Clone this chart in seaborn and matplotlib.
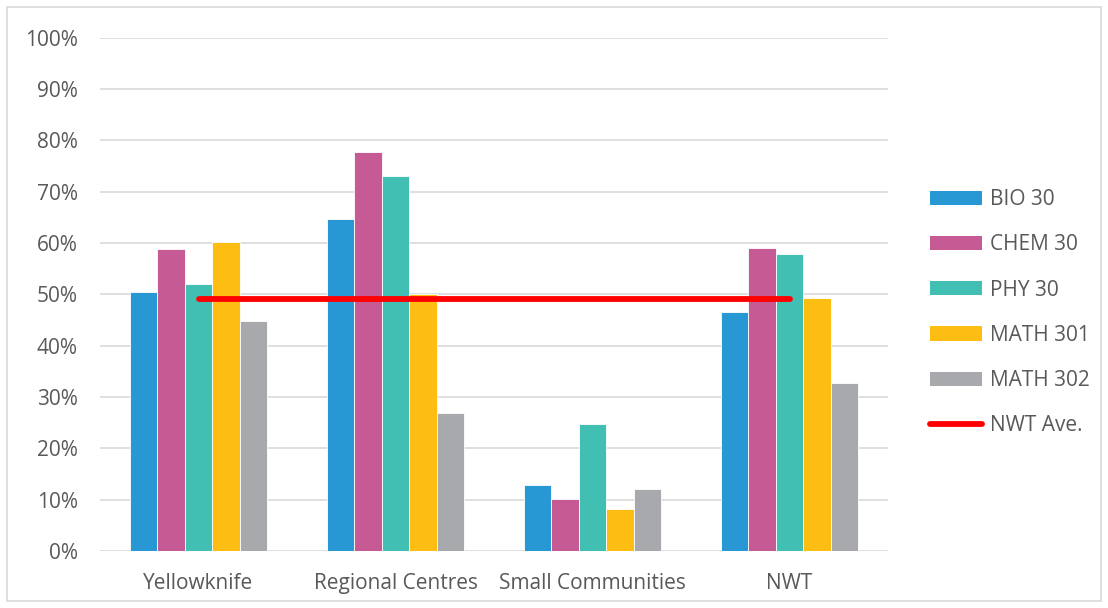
import matplotlib
matplotlib.use("Agg")
import matplotlib.pyplot as plt
from matplotlib.patches import Patch, Rectangle
from matplotlib.lines import Line2D
from matplotlib.ticker import PercentFormatter
import pandas as pd
import seaborn as sns

regions = ["Yellowknife", "Regional Centres", "Small Communities", "NWT"]
courses = ["BIO 30", "CHEM 30", "PHY 30", "MATH 301", "MATH 302"]
bio30 = [0.504, 0.646, 0.128, 0.465]
chem30 = [0.588, 0.777, 0.101, 0.590]
phy30 = [0.520, 0.730, 0.248, 0.578]
math301 = [0.601, 0.500, 0.082, 0.493]
math302 = [0.448, 0.268, 0.120, 0.328]
nwt_average = 0.491
average_label = "NWT Ave."

colors = ["#2898D5", "#C55A94", "#41BFB3", "#FDBD12", "#A8A9AD"]
line_color = "#FF0000"
text_color = "#595959"
grid_color = "#D9D9D9"

series = [bio30, chem30, phy30, math301, math302]
df = pd.DataFrame(
    [(r, c, vals[i]) for c, vals in zip(courses, series) for i, r in enumerate(regions)],
    columns=["region", "course", "rate"],
)

sns.set_theme(style="white")
plt.rcParams["font.family"] = ["Open Sans", "DejaVu Sans"]
FS = 15

fig = plt.figure(figsize=(11.08, 6.08), dpi=100)
ax = fig.add_axes([100 / 1108, 1 - 551 / 608, 788 / 1108, (551 - 37.5) / 608])

sns.barplot(
    data=df, x="region", y="rate", hue="course", order=regions, hue_order=courses,
    palette=colors, saturation=1, width=0.7, gap=0, edgecolor="white", linewidth=0.6,
    legend=False, ax=ax,
)

ax.plot([0, len(regions) - 1], [nwt_average, nwt_average], color=line_color,
        lw=4.2, solid_capstyle="round", zorder=5)

ax.set_ylim(0, 1)
ax.set_xlim(-0.5, len(regions) - 0.5)
ax.set_yticks([i / 10 for i in range(11)])
ax.yaxis.set_major_formatter(PercentFormatter(1.0, decimals=0))
ax.grid(axis="y", color=grid_color, lw=1.2)
ax.set_axisbelow(True)
for s in ax.spines.values():
    s.set_visible(False)
ax.set_xlabel("")
ax.set_ylabel("")
ax.tick_params(axis="both", length=0, labelsize=FS, colors=text_color)
ax.tick_params(axis="y", pad=16)
ax.tick_params(axis="x", pad=16)

handles = [Patch(facecolor=c, edgecolor="none") for c in colors]
handles.append(Line2D([0], [0], color=line_color, lw=4.2, solid_capstyle="round"))
leg = fig.legend(
    handles, courses + [average_label], loc="upper left",
    bbox_to_anchor=(922 / 1108, 1 - 181 / 608), frameon=False,
    fontsize=FS, labelspacing=1.16, handlelength=2.5, handleheight=0.67,
    handletextpad=0.35, borderaxespad=0, borderpad=0.4,
)
for t in leg.get_texts():
    t.set_color(text_color)

fig.patches.append(Rectangle((7 / 1108, 7 / 608), 1094 / 1108, 594 / 608,
                             transform=fig.transFigure, fill=False,
                             edgecolor="#D9D9D9", lw=1.2))

fig.savefig("out.png", dpi=100, facecolor="white")
